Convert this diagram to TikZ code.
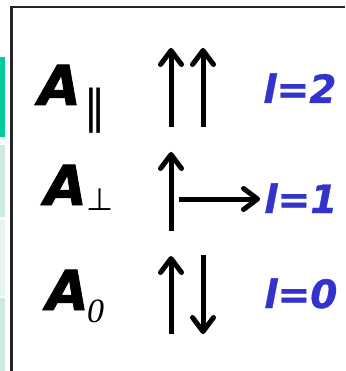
\documentclass[tikz,border=0pt]{standalone}
\usepackage{fontspec}
\usetikzlibrary{arrows.meta}
\newfontfamily\dvfont{DejaVu Sans}
\newfontfamily\heavyfont{DejaVu Sans}[BoldItalicFeatures={FakeBold=1.6}]
\newfontfamily\labfont{DejaVu Sans}[BoldItalicFeatures={FakeBold=0.8}]
\newfontfamily\serfont{Liberation Serif}
\definecolor{lblue}{HTML}{3333CC}
\definecolor{teal1}{HTML}{00CC99}
\definecolor{pale1}{HTML}{CCEBDD}
\definecolor{pale2}{HTML}{E5F5EE}
\tikzset{
  vec/.style={line width=5pt, -{Straight Barb[length=14pt, width=21pt, round]}},
  bigA/.style={inner sep=0pt, anchor=base west, font=\heavyfont\bfseries\itshape\fontsize{55}{55}\selectfont},
  lab/.style={inner sep=0pt, anchor=base west, text=lblue, font=\labfont\bfseries\itshape\fontsize{39}{39}\selectfont},
  sub/.style={inner sep=0pt, anchor=base west},
  frame/.style={line width=2.2pt, draw=black!85}
}
\begin{document}
\begin{tikzpicture}[x=1pt,y=-1pt]
\useasboundingbox (0,0) rectangle (345,371);
% side strips
\fill[teal1] (0,57) rectangle (5,137);
\fill[pale1] (0,145) rectangle (5,217);
\fill[pale2] (0,220) rectangle (5,296);
\fill[pale1] (0,298) rectangle (5,371);
% frame
\coordinate (fb) at (11.5,371);
\coordinate (fc) at (11.5,7);
\coordinate (fr) at (345,7);
\draw[frame] (fb) -- (fc) -- (fr);
% left labels
\node[bigA] (a1) at (38,105) {A};
\node[sub, font=\dvfont\fontsize{46}{46}\selectfont] (s1) at (83,124) {∥};
\node[bigA] (a2) at (44,205) {A};
\node[sub, font=\dvfont\fontsize{31}{31}\selectfont] (s2) at (86,210) {⊥};
\node[bigA] (a3) at (46,310) {A};
\node[sub, font=\serfont\itshape\fontsize{34}{34}\selectfont] (s3) at (87,322) {0};
% arrows
\coordinate (u1b) at (171,127); \coordinate (u1t) at (171,48);
\coordinate (u2b) at (203,127); \coordinate (u2t) at (203,48);
\draw[vec] (u1b) -- (u1t);
\draw[vec] (u2b) -- (u2t);
\coordinate (v1b) at (171,231); \coordinate (v1t) at (171,152);
\coordinate (h1a) at (179,199); \coordinate (h1b) at (260,199);
\draw[vec] (v1b) -- (v1t);
\draw[vec] (h1a) -- (h1b);
\coordinate (w1b) at (171,334); \coordinate (w1t) at (171,256);
\coordinate (w2t) at (203,255); \coordinate (w2b) at (203,334);
\draw[vec] (w1b) -- (w1t);
\draw[vec] (w2t) -- (w2b);
% right labels
\node[lab] (l2) at (263,103) {l=2};
\node[lab] (l1) at (264,213) {l=1};
\node[lab] (l0) at (264,308) {l=0};
\end{tikzpicture}
\end{document}
